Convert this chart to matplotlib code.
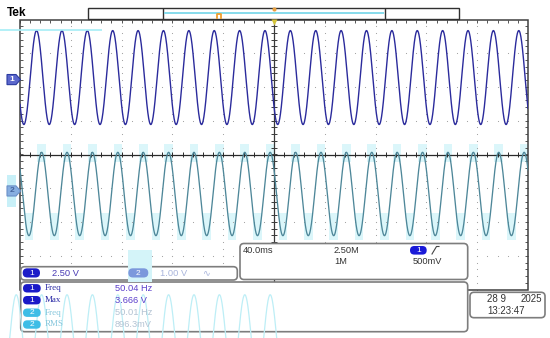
import numpy as np
import matplotlib.pyplot as plt
from matplotlib.patches import FancyBboxPatch, Polygon, Rectangle
from matplotlib.transforms import blended_transform_factory

# scope settings / readouts taken from the screen
time_per_div = 40.0          # ms/div
ch1_volts_per_div = 2.50
ch2_volts_per_div = 1.00
ch1_freq = 50.04             # Hz
ch2_freq = 50.01
ch1_amp_v = 3.48             # peak amplitude
ch2_amp_v = 1.235
ch1_dc_v = 0.15
ch2_dc_v = -0.09
ch1_position = 2.22          # div (channel marker)
ch2_position = -1.08
ch1_peak_ms = -7.1           # a peak of each trace, ms from trigger
ch2_peak_ms = -3.0
ghost_position = -5.39       # the faint copy of ch2 under the readouts

meas_channels = ['1', '1', '2', '2']
meas_labels = ['Freq', 'Max', 'Freq', 'RMS']
meas_values = ['50.04 Hz', '3.666 V', '50.01 Hz', '896.3mV']

SANS = ['Liberation Sans', 'DejaVu Sans']
C1 = '#2b2b9c'
C2 = '#4e8799'
BAND = '#dbf6fa'

fig = plt.figure(figsize=(5.5, 3.38), dpi=100)

# graticule axes: ms on x, divisions on y
g = fig.add_axes([20 / 550, 1 - 289.5 / 338, 508 / 550, 270 / 338], zorder=1)
half = 5 * time_per_div
g.set_xlim(-half, half)
g.set_ylim(-4, 4)
g.axis('off')

# overlay in pixels for the readout boxes
ov = fig.add_axes([0, 0, 1, 1], zorder=2)
ov.set_xlim(0, 550)
ov.set_ylim(338, 0)
ov.axis('off')

# dotted grid
ydots = np.arange(-4, 4.001, 0.2)
xdots = np.arange(-half, half + 0.01, time_per_div / 5)
for k in range(-4, 5):
    if k == 0:
        continue
    g.plot(np.full(len(ydots), k * time_per_div), ydots, ls='none', marker='s',
           ms=0.75, color='#a6a6a6', mec='none', zorder=1)
for j in range(-3, 4):
    if j == 0:
        continue
    g.plot(xdots, np.full(len(xdots), j), ls='none', marker='s',
           ms=0.75, color='#a6a6a6', mec='none', zorder=1)

# center lines with ticks
g.axhline(0, color='#2a2a2a', lw=0.9, zorder=2)
g.axvline(0, color='#3a3a3a', lw=0.9, zorder=2)
g.vlines(xdots, -0.08, 0.08, color='#2a2a2a', lw=0.7, zorder=2)
g.hlines(ydots, -2.2, 2.2, color='#3a3a3a', lw=0.7, zorder=2)
# border ticks
g.vlines(xdots, 4 - 0.09, 4, color='#555555', lw=0.7, zorder=2)
g.hlines(ydots, -half, -half + 2.6, color='#555555', lw=0.7, zorder=2)
g.hlines(ydots, half - 2.6, half, color='#555555', lw=0.7, zorder=2)
g.add_patch(Rectangle((0, 0), 1, 1, transform=g.transAxes, fill=False,
                      ec='#404040', lw=1.1, clip_on=False, zorder=2))

t = np.linspace(-half, half, 3001)
ch1 = ch1_position + (ch1_dc_v + ch1_amp_v * np.cos(2 * np.pi * ch1_freq * (t - ch1_peak_ms) / 1000)) / ch1_volts_per_div
ch2 = ch2_position + (ch2_dc_v + ch2_amp_v * np.cos(2 * np.pi * ch2_freq * (t - ch2_peak_ms) / 1000)) / ch2_volts_per_div

# light persistence bands on ch2 peaks and troughs
per2 = 1000 / ch2_freq
y_pk = ch2_position + (ch2_dc_v + ch2_amp_v) / ch2_volts_per_div
y_tr = ch2_position + (ch2_dc_v - ch2_amp_v) / ch2_volts_per_div
for n in range(-12, 12):
    tp = ch2_peak_ms + n * per2
    tt = tp + per2 / 2
    if -half - 4 < tp < half + 4:
        g.add_patch(Rectangle((tp - 3.4, y_pk - 0.3), 6.8, 0.56, fc=BAND, ec='none', zorder=0.5))
    if -half - 4 < tt < half + 4:
        g.add_patch(Rectangle((tt - 3.4, y_tr - 0.12), 6.8, 0.8, fc=BAND, ec='none', zorder=0.5))

g.plot(t, ch1, color=C1, lw=1.0, zorder=3)
g.plot(t, ch2, color=C2, lw=0.95, zorder=3)

# top record bar
ov.text(7, 13.5, 'Tek', fontsize=8.5, fontweight='bold', family=SANS, va='center', ha='left')
ov.add_patch(Rectangle((88, 8), 371, 11, fill=False, ec='#303030', lw=1))
ov.vlines([163, 385], 8, 19, color='#303030', lw=1)
ov.hlines(13, 164, 384, color='#86dcec', lw=1.4)
ov.plot([217, 217, 221, 221], [18, 13.5, 13.5, 18], color='#f0a030', lw=1.3)
ov.plot(274, 9, marker='o', ms=3, color='#e8a040', mec='none')
ov.plot(274, 21.5, marker='v', ms=5, color='#d4c43a', mec='none')
ov.hlines(29.5, 0, 102, color='#a6eef6', lw=1.2, zorder=4)

# channel markers on the left
bt = blended_transform_factory(ov.transData, g.transData)
hh = 0.15
ov.add_patch(Rectangle((7, ch2_position - 0.47), 9, 0.94, transform=bt, fc='#c8f0f8', ec='none'))
for pos, fc, ec, tc, lab in [(ch1_position, '#5b67cc', '#2a3aa0', 'white', '1'),
                             (ch2_position, '#86aee0', '#6a90c8', '#44659e', '2')]:
    ov.add_patch(Polygon([(7, pos + hh), (16, pos + hh), (20.5, pos), (16, pos - hh), (7, pos - hh)],
                         closed=True, transform=bt, fc=fc, ec=ec, lw=0.8))
    ov.text(12, pos, lab, transform=bt, fontsize=6, color=tc, ha='center', va='center',
            family=SANS, fontweight='bold')


def box(x, y, w, h, r=4):
    ov.add_patch(FancyBboxPatch((x, y), w, h, boxstyle=f'round,pad=0,rounding_size={r}',
                                fc='white', ec='#7d7d7d', lw=1.2, zorder=2))


def pill(x, y, w, h, fc, lab, tc='white'):
    ov.add_patch(FancyBboxPatch((x, y), w, h, boxstyle=f'round,pad=0,rounding_size={h / 2}',
                                fc=fc, ec='none', zorder=3.5))
    ov.text(x + w / 2, y + h / 2 + 0.2, lab, fontsize=6, color=tc, ha='center', va='center',
            family=SANS, zorder=4)


def txt(x, y, s, color='#333333', size=6.7, family=SANS):
    ov.text(x, y, s, fontsize=size, color=color, ha='left', va='center', family=family, zorder=4)


# timebase / trigger box
box(240, 243.5, 227.7, 36)
txt(243, 250.5, f'{time_per_div:.1f}ms')
txt(333.5, 250.5, '2.50M')
txt(334.5, 262, '1M')
pill(410, 246, 16.7, 8.6, '#1a1ad8', '1')
ov.plot([432, 436.5, 439], [254, 246.5, 246.5], color='#444444', lw=0.8, zorder=4)
txt(412.3, 262, '500mV')

# vertical scale box
box(20.7, 266.7, 216.6, 13.3)
ov.add_patch(Rectangle((128, 250), 24, 32, fc='#d4f4f9', ec='none', zorder=2.2))
pill(22.7, 268.3, 17.3, 9.2, '#1c1cc8', '1')
txt(51.7, 273.2, f'{ch1_volts_per_div:.2f} V', color='#4a3cb4')
pill(128.3, 268.3, 20, 9.2, '#7c98dc', '2')
txt(160, 273.2, f'{ch2_volts_per_div:.2f} V', color='#a9b5dc')
txt(202, 273.2, '\u223f', color='#a9b5dc')

# measurement box
box(20.7, 282, 447, 49.7)
tg = np.linspace(-216, 10, 800)
ghost = ghost_position + (ch2_amp_v * np.cos(2 * np.pi * ch2_freq * (tg - ch2_peak_ms) / 1000)) / ch2_volts_per_div
ov.plot(tg, ghost, transform=g.transData, color='#bdeef6', lw=0.9, zorder=2.5)

rows_y = [288.3, 300.2, 312.7, 324.5]
for yy, ch, lab, val in zip(rows_y, meas_channels, meas_labels, meas_values):
    if ch == '1':
        pc, lc, vc = '#1a1ac8', '#2b2ba6', '#5b3ecb'
    else:
        pc, lc, vc = '#3ebde6', '#86c6dc', '#b3c3d3'
    pill(23, yy - 4.2, 17.7, 8.4, pc, ch)
    txt(44.3, yy, lab, color=lc, size=6.5, family=['Liberation Serif', 'DejaVu Serif'])
    txt(115, yy, val, color=vc)

# date box
box(470, 292.3, 75, 25.4)
txt(487, 298.8, '28 9', size=7)
txt(521, 298.8, '2025', size=7)
txt(487, 311, '13:23:47', size=7)

fig.savefig('out.png', dpi=100)
